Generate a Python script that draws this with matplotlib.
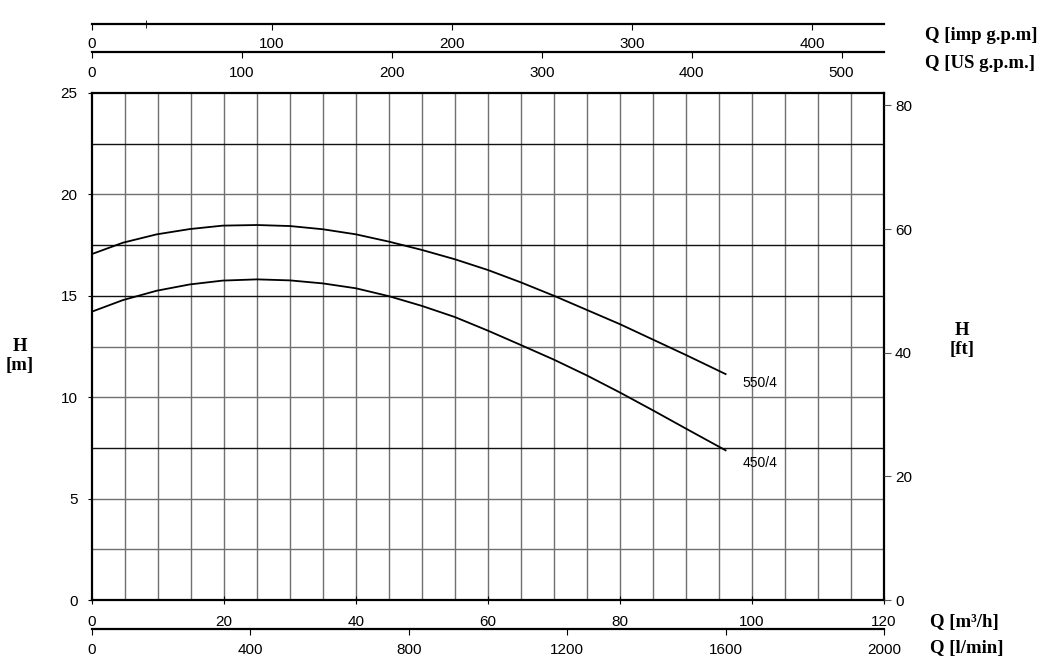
import matplotlib
matplotlib.use("Agg")
import matplotlib.pyplot as plt

# pump curves (Q in m3/h, H in m)
q_550 = [0, 4.7, 9.8, 14.8, 19.8, 25, 30, 35, 40, 45, 50, 55, 60, 65, 70, 75, 80, 85, 90, 96]
h_550 = [17.06, 17.62, 18.03, 18.29, 18.46, 18.49, 18.44, 18.28, 18.03, 17.67, 17.26, 16.8,
         16.27, 15.66, 15.0, 14.3, 13.6, 12.84, 12.08, 11.14]
q_450 = [0, 4.7, 9.8, 14.8, 19.8, 25, 30, 35, 40, 45, 50, 55, 60, 65, 70, 75, 80, 85, 90, 96]
h_450 = [14.22, 14.79, 15.25, 15.56, 15.75, 15.81, 15.76, 15.61, 15.37, 14.98, 14.5, 13.95,
         13.28, 12.57, 11.85, 11.07, 10.23, 9.35, 8.45, 7.38]
curve_names = ["550/4", "450/4"]

m3h_ticks = [0, 20, 40, 60, 80, 100, 120]
lmin_ticks = [0, 400, 800, 1200, 1600, 2000]
imp_ticks = [0, 100, 200, 300, 400]
us_ticks = [0, 100, 200, 300, 400, 500]
h_ticks = [0, 5, 10, 15, 20, 25]
ft_ticks = [0, 20, 40, 60, 80]

M3H_TO_IMP = 3.6662
M3H_TO_US = 4.4029
M_TO_FT = 3.28084

W, H = 1045, 662
tick_font = {"family": "Liberation Sans", "size": 11}
curve_font = {"family": "Liberation Sans", "size": 10}
lab_font = {"family": "Liberation Serif", "size": 13.5, "weight": "bold"}

fig = plt.figure(figsize=(W / 100, H / 100), dpi=100)
left, right, top, bottom = 92, 884, 93, 600
ax = fig.add_axes([left / W, 1 - bottom / H, (right - left) / W, (bottom - top) / H])
ax.set_xlim(0, 120)
ax.set_ylim(0, 25)

# grid
for q in range(5, 120, 5):
    ax.axvline(q, color="#707070", lw=1.0, zorder=1)
dark = [7.5, 15, 17.5, 22.5]
for h in [2.5, 5, 7.5, 10, 12.5, 15, 17.5, 20, 22.5]:
    ax.axhline(h, color="#111111" if h in dark else "#707070", lw=1.0, zorder=1)

ax.plot(q_550, h_550, color="black", lw=1.3, zorder=3)
ax.plot(q_450, h_450, color="black", lw=1.3, zorder=3)
ax.text(98.6, 10.7, curve_names[0], fontdict=curve_font, va="center", ha="left")
ax.text(98.6, 6.75, curve_names[1], fontdict=curve_font, va="center", ha="left")

for s in ax.spines.values():
    s.set_linewidth(1.6)

ax.set_xticks(m3h_ticks)
ax.set_xticklabels([str(t) for t in m3h_ticks], fontdict=tick_font)
ax.set_yticks(h_ticks)
ax.set_yticklabels([str(t) for t in h_ticks], fontdict=tick_font)
ax.tick_params(axis="x", direction="inout", length=6, pad=7.5)
ax.tick_params(axis="y", direction="out", length=3, pad=7.5)

# feet on the right
ax_ft = ax.twinx()
ax_ft.set_ylim(0, 25 * M_TO_FT)
ax_ft.set_yticks(ft_ticks)
ax_ft.set_yticklabels([str(t) for t in ft_ticks], fontdict=tick_font)
ax_ft.tick_params(axis="y", direction="out", length=5, pad=3, color="#555555")
for s in ax_ft.spines.values():
    s.set_visible(False)


def extra_axis(y_px, xmax, ticks, pad):
    a = fig.add_axes([left / W, 1 - y_px / H, (right - left) / W, 0.0001])
    a.set_xlim(0, xmax)
    a.set_yticks([])
    for k in ["top", "left", "right"]:
        a.spines[k].set_visible(False)
    a.spines["bottom"].set_linewidth(1.6)
    a.set_xticks(ticks)
    a.set_xticklabels([str(t) for t in ticks], fontdict=tick_font)
    a.tick_params(axis="x", direction="out", length=4, pad=pad)
    a.patch.set_visible(False)
    return a


ax_imp = extra_axis(23.5, 120 * M3H_TO_IMP, imp_ticks, 6)
# the stray little mark on the imp axis
ax_imp.set_xticks([30], minor=True)
ax_imp.tick_params(axis="x", which="minor", direction="inout", length=6)
extra_axis(52, 120 * M3H_TO_US, us_ticks, 6)
extra_axis(629, 2000, lmin_ticks, 6)

fig.text(925 / W, 1 - 35 / H, "Q [imp g.p.m]", fontdict=lab_font, va="center", ha="left")
fig.text(925 / W, 1 - 63 / H, "Q [US g.p.m.]", fontdict=lab_font, va="center", ha="left")
fig.text(930 / W, 1 - 623 / H, "Q [m³/h]", fontdict=lab_font, va="center", ha="left")
fig.text(930 / W, 1 - 648 / H, "Q [l/min]", fontdict=lab_font, va="center", ha="left")
fig.text(20 / W, 1 - 356 / H, "H\n[m]", fontdict=lab_font, va="center", ha="center",
         linespacing=1.2)
fig.text(962 / W, 1 - 340 / H, "H\n[ft]", fontdict=lab_font, va="center", ha="center",
         linespacing=1.2)

fig.savefig("out.png", dpi=100)
